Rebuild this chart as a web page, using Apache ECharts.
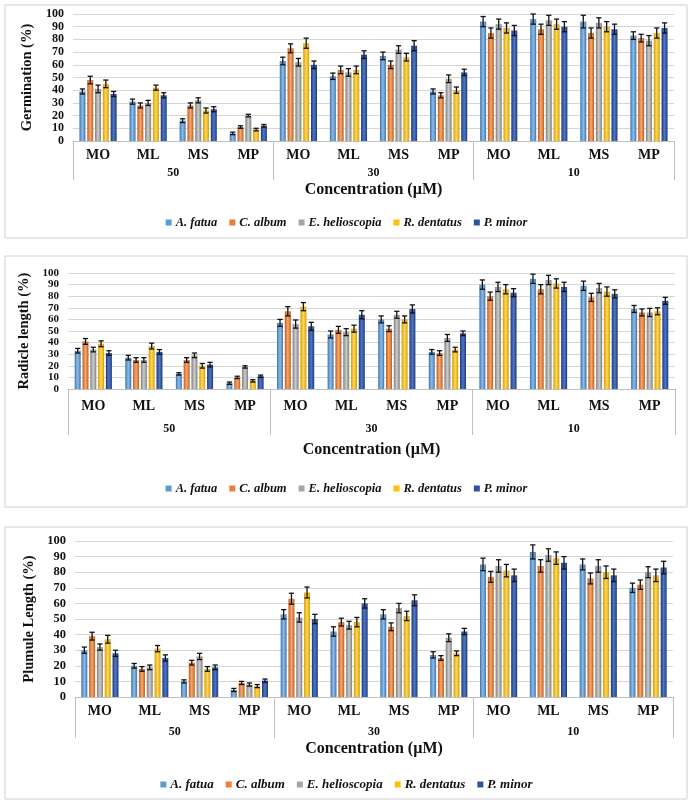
<!DOCTYPE html>
<html><head><meta charset="utf-8">
<script src="https://cdn.jsdelivr.net/npm/echarts@6/dist/echarts.min.js"></script>
<style>html,body{margin:0;padding:0;background:#fff}#c{width:693px;height:802px}</style>
</head><body><div id="c"></div>
<script>
// ---------- DATA ----------
const subCategories = ['MO','ML','MS','MP','MO','ML','MS','MP','MO','ML','MS','MP'];
const concentrations = ['50','30','10'];
const species = ['A. fatua','C. album','E. helioscopia','R. dentatus','P. minor'];
const yMin = 0, yMax = 100, yStep = 10;

// Germination (%)
const germA = [39,31,16,6, 63,51,67,39, 94,96,94,83];
const germC = [48,28,28,11, 73,56,60,36, 85,88,85,81];
const germE = [41,30,32,20, 62,54,72,49, 92,95,93,79];
const germR = [45,42,24,9, 77,56,66,40, 89,92,90,85];
const germP = [37,36,25,12, 60,68,75,54, 87,90,88,89];
const germErrA = [2,2,1.5,1, 3,2.5,3,2, 4,4,5,3];
const germErrC = [3,2,2,1, 3.5,3,3,2, 4,4,4,3];
const germErrE = [3,2,2,1, 3,3,3,3, 4,4,4,4];
const germErrR = [3,2,2,1, 4,3,3,2.5, 4,4,4,4];
const germErrP = [2,2,2,1, 3,3,4,2.5, 4,4,4,4];

// Radicle length (%)
const radA = [33,27,13,5, 57,47,60,32, 90,95,89,69];
const radC = [41,25,25,10, 67,51,52,31, 80,86,79,66];
const radE = [34,25,29,19, 56,49,64,44, 88,94,87,66];
const radR = [39,37,20,7, 71,52,60,34, 86,91,84,67];
const radP = [31,32,21,11, 54,64,69,48, 83,88,82,76];
const radErrA = [2,2,1,1, 3,3,3,2, 4,4,4,3];
const radErrC = [2.5,2,2,1, 4,3,2.5,2, 3.5,4,3.5,3];
const radErrE = [2,2,2,1, 3.5,3,3,3, 4,4,4,3.5];
const radErrR = [2.5,2.5,2,1, 3.5,3,3,2, 4,4,4,3];
const radErrP = [2,2,2,1, 3.5,3.5,3.5,2, 3.5,4,3.5,3];

// Plumule Length (%)
const pluA = [30,20,10,4.5, 53,42,53,27, 85,93,85,70];
const pluC = [39,18,22,9, 63,48,45,25, 77,84,76,72];
const pluE = [32,19,26,8, 51,46,57,38, 84,91,84,80];
const pluR = [37,31,18,7, 67,48,52,28, 81,89,80,78];
const pluP = [28,25,19,10.5, 50,60,62,42, 78,86,78,83];
const pluErrA = [2,1.5,1,1, 3,3,3,2, 4,4.5,3.5,3];
const pluErrC = [2.5,1.5,1.5,1, 3.5,2.5,2.5,1.5, 3.5,4,3.5,3];
const pluErrE = [2,1.5,2,1, 3,2.5,3,2.5, 4,4,4,3.5];
const pluErrR = [2.5,2,1.5,1, 3.5,3,3,1.5, 4,4,4,4];
const pluErrP = [2,2,1.5,1, 3,3,3.5,2, 4,4,4,4];

const panelTitles = ['Germination (%)','Radicle length (%)','Plumule Length (%)'];
const xTitle = 'Concentration (\u00b5M)';

// ---------- STYLE / LAYOUT ----------
const FONT = '"Liberation Serif","Times New Roman",serif';
const baseColors = ['#5B9BD5','#ED7D31','#A5A5A5','#FFC000','#2E54A1'];
const edgeColors = ['#3E75AE','#C15E1C','#7F7F7F','#D7A000','#1D3A7A'];
const midColors  = ['#8DBCE8','#F6A870','#CDCDCD','#FFD75A','#4F77C6'];
const panelVals = [[germA,germC,germE,germR,germP],[radA,radC,radE,radR,radP],[pluA,pluC,pluE,pluR,pluP]];
const panelErrs = [[germErrA,germErrC,germErrE,germErrR,germErrP],[radErrA,radErrC,radErrE,radErrR,radErrP],[pluErrA,pluErrC,pluErrE,pluErrR,pluErrP]];

const layout = [
  {grid:{left:73,top:14,width:601,height:127}, catMargin:7, grpMargin:26, tick:39, nameGap:41, yNameGap:35, legendTop:211, yFont:12, box:[5,5,682,233]},
  {grid:{left:68,top:273,width:607,height:116}, catMargin:10, grpMargin:34, tick:46, nameGap:53, yNameGap:33, legendTop:477, yFont:11, box:[5,256,682,251]},
  {grid:{left:75,top:541,width:598,height:156}, catMargin:7, grpMargin:29, tick:41, nameGap:44, yNameGap:36, legendTop:773, yFont:12.5, box:[5,527,682,272]}
];
const BAR_W = 6, GAP = 0.3;
const STEP = BAR_W * (1 + GAP);

function errRender(offset){
  return function(params, api){
    const x = api.value(0), v = api.value(1), e = api.value(2);
    const t = api.coord([x, v + e]), b = api.coord([x, Math.max(0, v - e)]);
    const cx = t[0] + offset, w = 2.6;
    const st = {stroke:'#111', lineWidth:1.3};
    return {type:'group', children:[
      {type:'line', shape:{x1:cx,y1:t[1],x2:cx,y2:b[1]}, style:st},
      {type:'line', shape:{x1:cx-w,y1:t[1],x2:cx+w,y2:t[1]}, style:st},
      {type:'line', shape:{x1:cx-w,y1:b[1],x2:cx+w,y2:b[1]}, style:st}
    ]};
  };
}

const grids = [], xAxes = [], yAxes = [], series = [], legends = [], graphics = [];
layout.forEach((L, p) => {
  grids.push(L.grid);
  graphics.push({type:'rect', shape:{x:L.box[0], y:L.box[1], width:L.box[2], height:L.box[3]},
    style:{fill:null, stroke:'#cfcfcf', lineWidth:1}, z:-1});
  xAxes.push({type:'category', gridIndex:p, data:subCategories, position:'bottom',
    axisLine:{show:true, lineStyle:{color:'#bfbfbf', width:1}}, axisTick:{show:false},
    axisLabel:{margin:L.catMargin, fontFamily:FONT, fontWeight:'bold', fontSize:14, color:'#111', interval:0},
    splitLine:{show:false}});
  xAxes.push({type:'category', gridIndex:p, data:concentrations, position:'bottom',
    axisLine:{show:false}, axisTick:{show:true, length:L.tick, lineStyle:{color:'#bfbfbf', width:1}},
    axisLabel:{margin:L.grpMargin, fontFamily:FONT, fontWeight:'bold', fontSize:12, color:'#111'},
    name:xTitle, nameLocation:'middle', nameGap:L.nameGap,
    nameTextStyle:{fontFamily:FONT, fontWeight:'bold', fontSize:16, color:'#111'},
    splitLine:{show:false}});
  yAxes.push({type:'value', gridIndex:p, min:yMin, max:yMax, interval:yStep,
    axisLine:{show:false}, axisTick:{show:false},
    axisLabel:{fontFamily:FONT, fontWeight:'bold', fontSize:L.yFont, color:'#111', margin:9,
      showMinLabel:true, showMaxLabel:true, hideOverlap:false, padding:0},
    splitLine:{lineStyle:{color:'#d6d6d6', width:1}},
    name:panelTitles[p], nameLocation:'middle', nameGap:L.yNameGap,
    nameTextStyle:{fontFamily:FONT, fontWeight:'bold', fontSize:14.5, color:'#111'}});
  species.forEach((sp, i) => {
    series.push({type:'bar', name:sp, xAxisIndex:p*2, yAxisIndex:p, barWidth:BAR_W, barGap:(GAP*100)+'%',
      data:panelVals[p][i],
      itemStyle:{color:new echarts.graphic.LinearGradient(0,0,1,0,[
        {offset:0,color:edgeColors[i]},{offset:0.5,color:midColors[i]},{offset:1,color:edgeColors[i]}])},
      emphasis:{disabled:true}, animation:false});
  });
  species.forEach((sp, i) => {
    series.push({type:'custom', name:sp, xAxisIndex:p*2, yAxisIndex:p, z:5,
      renderItem:errRender((i - 2) * STEP),
      data:panelVals[p][i].map((v, k) => [k, v, panelErrs[p][i][k]]),
      animation:false, silent:true});
  });
  legends.push({top:L.legendTop, left:'center', itemWidth:6, itemHeight:6, itemGap:12, icon:'rect',
    data:species.map((s, i) => ({name:s, itemStyle:{color:baseColors[i]}})),
    textStyle:{fontFamily:FONT, fontWeight:'bold', fontStyle:'italic', fontSize:p === 2 ? 13 : 12.5, color:'#111', padding:[0,0,0,-1]},
    selectedMode:false});
});

const chart = echarts.init(document.getElementById('c'));
chart.setOption({
  backgroundColor:'#fff', animation:false,
  grid:grids, xAxis:xAxes, yAxis:yAxes, series:series, legend:legends, graphic:graphics
});
</script></body></html>
